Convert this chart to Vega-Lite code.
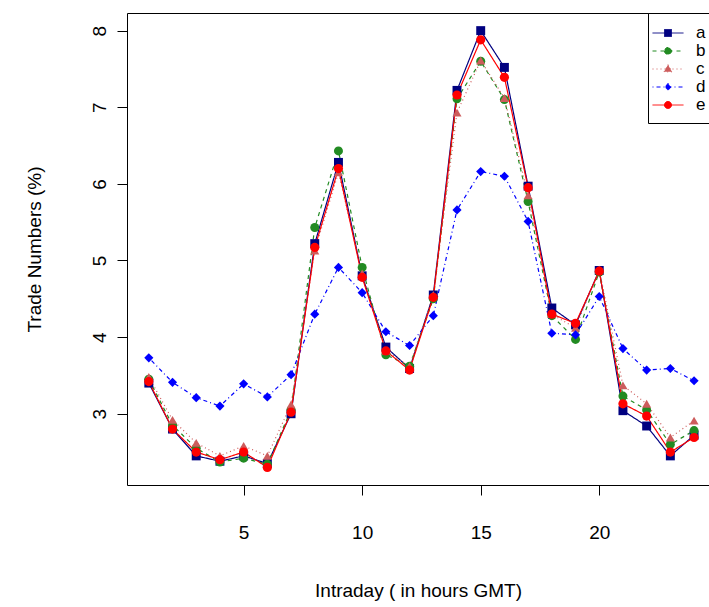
{
  "$schema": "https://vega.github.io/schema/vega-lite/v6.json",
  "width": 582,
  "height": 472,
  "autosize": {"type": "none"},
  "padding": {"left": 127, "top": 13, "right": 0, "bottom": 122},
  "background": "white",
  "config": {
    "view": {"stroke": null},
    "font": "Liberation Sans",
    "axis": {"grid": false, "domainColor": "black", "tickColor": "black", "labelColor": "black", "titleColor": "black", "labelFont": "Liberation Sans", "titleFont": "Liberation Sans", "titleFontWeight": "normal", "domainWidth": 1, "tickWidth": 1}
  },
  "data": {
    "values": [
      {"hour":1,"series":"a","value":3.40},{"hour":2,"series":"a","value":2.80},{"hour":3,"series":"a","value":2.45},{"hour":4,"series":"a","value":2.38},{"hour":5,"series":"a","value":2.45},{"hour":6,"series":"a","value":2.35},{"hour":7,"series":"a","value":3.00},{"hour":8,"series":"a","value":5.22},{"hour":9,"series":"a","value":6.28},{"hour":10,"series":"a","value":4.80},{"hour":11,"series":"a","value":3.87},{"hour":12,"series":"a","value":3.59},{"hour":13,"series":"a","value":4.55},{"hour":14,"series":"a","value":7.22},{"hour":15,"series":"a","value":8.00},{"hour":16,"series":"a","value":7.52},{"hour":17,"series":"a","value":5.97},{"hour":18,"series":"a","value":4.38},{"hour":19,"series":"a","value":4.16},{"hour":20,"series":"a","value":4.87},{"hour":21,"series":"a","value":3.04},{"hour":22,"series":"a","value":2.84},{"hour":23,"series":"a","value":2.45},{"hour":24,"series":"a","value":2.72},
      {"hour":1,"series":"b","value":3.45},{"hour":2,"series":"b","value":2.85},{"hour":3,"series":"b","value":2.55},{"hour":4,"series":"b","value":2.37},{"hour":5,"series":"b","value":2.42},{"hour":6,"series":"b","value":2.34},{"hour":7,"series":"b","value":3.05},{"hour":8,"series":"b","value":5.43},{"hour":9,"series":"b","value":6.43},{"hour":10,"series":"b","value":4.91},{"hour":11,"series":"b","value":3.77},{"hour":12,"series":"b","value":3.62},{"hour":13,"series":"b","value":4.50},{"hour":14,"series":"b","value":7.11},{"hour":15,"series":"b","value":7.60},{"hour":16,"series":"b","value":7.10},{"hour":17,"series":"b","value":5.77},{"hour":18,"series":"b","value":4.28},{"hour":19,"series":"b","value":3.97},{"hour":20,"series":"b","value":4.85},{"hour":21,"series":"b","value":3.23},{"hour":22,"series":"b","value":3.05},{"hour":23,"series":"b","value":2.60},{"hour":24,"series":"b","value":2.78},
      {"hour":1,"series":"c","value":3.48},{"hour":2,"series":"c","value":2.92},{"hour":3,"series":"c","value":2.62},{"hour":4,"series":"c","value":2.45},{"hour":5,"series":"c","value":2.58},{"hour":6,"series":"c","value":2.45},{"hour":7,"series":"c","value":3.12},{"hour":8,"series":"c","value":5.13},{"hour":9,"series":"c","value":6.15},{"hour":10,"series":"c","value":4.83},{"hour":11,"series":"c","value":3.82},{"hour":12,"series":"c","value":3.62},{"hour":13,"series":"c","value":4.55},{"hour":14,"series":"c","value":6.93},{"hour":15,"series":"c","value":7.61},{"hour":16,"series":"c","value":7.12},{"hour":17,"series":"c","value":5.85},{"hour":18,"series":"c","value":4.30},{"hour":19,"series":"c","value":4.12},{"hour":20,"series":"c","value":4.88},{"hour":21,"series":"c","value":3.37},{"hour":22,"series":"c","value":3.13},{"hour":23,"series":"c","value":2.69},{"hour":24,"series":"c","value":2.91},
      {"hour":1,"series":"d","value":3.73},{"hour":2,"series":"d","value":3.41},{"hour":3,"series":"d","value":3.21},{"hour":4,"series":"d","value":3.10},{"hour":5,"series":"d","value":3.39},{"hour":6,"series":"d","value":3.22},{"hour":7,"series":"d","value":3.51},{"hour":8,"series":"d","value":4.30},{"hour":9,"series":"d","value":4.91},{"hour":10,"series":"d","value":4.58},{"hour":11,"series":"d","value":4.07},{"hour":12,"series":"d","value":3.89},{"hour":13,"series":"d","value":4.28},{"hour":14,"series":"d","value":5.66},{"hour":15,"series":"d","value":6.16},{"hour":16,"series":"d","value":6.10},{"hour":17,"series":"d","value":5.51},{"hour":18,"series":"d","value":4.05},{"hour":19,"series":"d","value":4.03},{"hour":20,"series":"d","value":4.53},{"hour":21,"series":"d","value":3.85},{"hour":22,"series":"d","value":3.57},{"hour":23,"series":"d","value":3.59},{"hour":24,"series":"d","value":3.43},
      {"hour":1,"series":"e","value":3.42},{"hour":2,"series":"e","value":2.80},{"hour":3,"series":"e","value":2.50},{"hour":4,"series":"e","value":2.40},{"hour":5,"series":"e","value":2.50},{"hour":6,"series":"e","value":2.30},{"hour":7,"series":"e","value":3.02},{"hour":8,"series":"e","value":5.17},{"hour":9,"series":"e","value":6.20},{"hour":10,"series":"e","value":4.78},{"hour":11,"series":"e","value":3.82},{"hour":12,"series":"e","value":3.57},{"hour":13,"series":"e","value":4.52},{"hour":14,"series":"e","value":7.16},{"hour":15,"series":"e","value":7.88},{"hour":16,"series":"e","value":7.39},{"hour":17,"series":"e","value":5.95},{"hour":18,"series":"e","value":4.30},{"hour":19,"series":"e","value":4.18},{"hour":20,"series":"e","value":4.86},{"hour":21,"series":"e","value":3.13},{"hour":22,"series":"e","value":2.97},{"hour":23,"series":"e","value":2.50},{"hour":24,"series":"e","value":2.69}
    ]
  },
  "encoding": {
    "y": {"field": "value", "type": "quantitative", "scale": {"domain": [2.07, 8.23], "nice": false, "zero": false},
          "axis": {"values": [3, 4, 5, 6, 7, 8], "tickSize": 10, "labelAngle": 270, "labelPadding": 8, "labelFontSize": 19, "title": "Trade Numbers (%)", "titleFontSize": 19, "titlePadding": 46, "domain": true}}
  },
  "layer": [
    {
      "mark": {"type": "line", "strokeWidth": 1.2},
      "encoding": {
        "x": {"field": "hour", "type": "quantitative", "scale": {"domain": [0.08, 24.63], "nice": false, "zero": false},
              "axis": {"orient": "bottom", "values": [5, 10, 15, 20], "tickSize": 10, "labelPadding": 28, "labelFontSize": 19, "title": "Intraday ( in hours GMT)", "titleFontSize": 19, "titlePadding": 39, "domain": true}},
        "color": {"field": "series", "type": "nominal", "scale": {"domain": ["a", "b", "c", "d", "e"], "range": ["#000080", "#228B22", "#CD5C5C", "#0000FF", "#FF0000"]}, "legend": null},
        "strokeDash": {"field": "series", "type": "nominal", "scale": {"domain": ["a", "b", "c", "d", "e"], "range": [[1, 0], [4, 4], [1, 3], [1, 3, 4, 3], [1, 0]]}, "legend": null}
      }
    },
    {
      "mark": {"type": "point", "filled": true, "opacity": 1},
      "encoding": {
        "x": {"field": "hour", "type": "quantitative", "axis": null},
        "color": {"field": "series", "type": "nominal", "legend": null},
        "shape": {"field": "series", "type": "nominal", "scale": {"domain": ["a", "b", "c", "d", "e"], "range": ["square", "circle", "triangle-up", "diamond", "circle"]}, "legend": null},
        "size": {"field": "series", "type": "nominal", "scale": {"domain": ["a", "b", "c", "d", "e"], "range": [80, 85, 100, 60, 85]}, "legend": null}
      }
    },
    {
      "mark": {"type": "point", "opacity": 0},
      "encoding": {
        "x": {"field": "hour", "type": "quantitative", "axis": {"orient": "top", "labels": false, "ticks": false, "domain": true, "title": null}},
        "shape": {
          "field": "series", "type": "nominal",
          "scale": {"domain": ["a", "b", "c", "d", "e"], "range": [
            "M-1.63,0H1.63M-0.37,-0.37H0.37V0.37H-0.37Z",
            "M-1.63,0H1.63M-0.37,0A0.37,0.37,0,1,0,0.37,0A0.37,0.37,0,1,0,-0.37,0Z",
            "M-1.63,0H1.63M0,-0.45L0.42,0.3H-0.42Z",
            "M-1.63,0H1.63M0,-0.38L0.3,0L0,0.38L-0.3,0Z",
            "M-1.63,0H1.63M-0.37,0A0.37,0.37,0,1,0,0.37,0A0.37,0.37,0,1,0,-0.37,0Z"
          ]},
          "legend": {
            "title": null, "orient": "none", "legendX": 521, "legendY": 0,
            "strokeColor": "black", "fillColor": "white", "padding": 10,
            "symbolSize": 361, "symbolStrokeWidth": 1, "rowPadding": 0,
            "labelFontSize": 17, "labelFont": "Liberation Sans", "labelColor": "black", "labelOffset": 18,
            "encoding": {
              "symbols": {
                "fill": {"value": {"expr": "datum.value === 'a' ? '#000080' : datum.value === 'b' ? '#228B22' : datum.value === 'c' ? '#CD5C5C' : datum.value === 'd' ? '#0000FF' : '#FF0000'"}},
                "stroke": {"value": {"expr": "datum.value === 'a' ? '#000080' : datum.value === 'b' ? '#228B22' : datum.value === 'c' ? '#CD5C5C' : datum.value === 'd' ? '#0000FF' : '#FF0000'"}},
                "strokeDash": {"value": {"expr": "datum.value === 'b' ? [4, 4] : datum.value === 'c' ? [1, 3] : datum.value === 'd' ? [1, 3, 4, 3] : [1, 0]"}},
                "opacity": {"value": 1},
                "strokeWidth": {"value": 1}
              }
            }
          }
        }
      }
    }
  ],
  "resolve": {"scale": {"shape": "independent", "size": "independent"}, "axis": {"x": "independent"}}
}
